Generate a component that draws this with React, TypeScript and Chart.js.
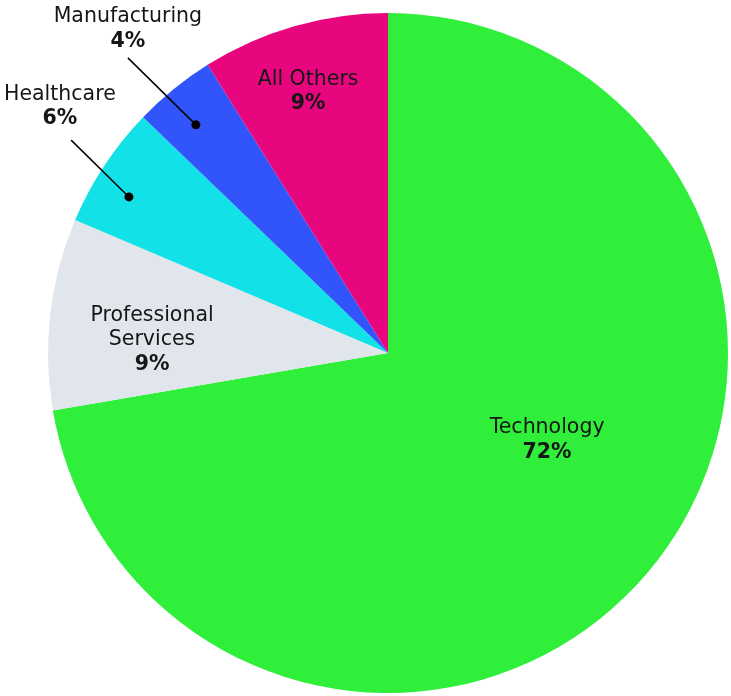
import React, { useEffect, useRef } from "react";
import { Chart, registerables } from "chart.js";

Chart.register(...registerables);

const categories = ["Technology", "Professional Services", "Healthcare", "Manufacturing", "All Others"];
const values = [72.3, 9.1, 5.8, 3.9, 8.9];
const percentLabels = ["72%", "9%", "6%", "4%", "9%"];
const labelLines = [["Technology"], ["Professional", "Services"], ["Healthcare"], ["Manufacturing"], ["All Others"]];
const colors = ["#2FEF3B", "#E1E5EC", "#12E1E8", "#3155FB", "#E8067F"];

// label placement in units of the pie radius, relative to pie centre
const labelPos: [number, number][] = [
  [0.468, 0.256],
  [-0.694, -0.038],
  [-0.965, -0.724],
  [-0.765, -0.953],
  [-0.235, -0.768],
];
// leader lines: [start, dot] in radius units (null = none)
const leaders: ([number, number][] | null)[] = [
  null,
  null,
  [[-0.932, -0.626], [-0.762, -0.459]],
  [[-0.765, -0.868], [-0.565, -0.671]],
  null,
];

const FONT = '"DejaVu Sans", sans-serif';

const labelPlugin = {
  id: "sliceLabels",
  afterDraw(chart: any) {
    const arc = chart.getDatasetMeta(0).data[0];
    if (!arc) return;
    const cx = arc.x;
    const cy = arc.y;
    const r = arc.outerRadius;
    const ctx = chart.ctx;
    ctx.save();
    ctx.textAlign = "center";
    ctx.textBaseline = "middle";
    ctx.fillStyle = "#161616";
    ctx.strokeStyle = "#000";
    const lh = 24.5;
    labelLines.forEach((lines, i) => {
      const [fx, fy] = labelPos[i];
      const x = cx + fx * r;
      const y = cy + fy * r;
      const total = lines.length + 1;
      const top = y - ((total - 1) * lh) / 2;
      ctx.font = `20.5px ${FONT}`;
      lines.forEach((t, j) => ctx.fillText(t, x, top + j * lh));
      ctx.font = `bold 20.5px ${FONT}`;
      ctx.fillText(percentLabels[i], x, top + lines.length * lh);
      const ld = leaders[i];
      if (ld) {
        const [s, d] = ld;
        ctx.lineWidth = 1.5;
        ctx.beginPath();
        ctx.moveTo(cx + s[0] * r, cy + s[1] * r);
        ctx.lineTo(cx + d[0] * r, cy + d[1] * r);
        ctx.stroke();
        ctx.fillStyle = "#000";
        ctx.beginPath();
        ctx.arc(cx + d[0] * r, cy + d[1] * r, 4.5, 0, Math.PI * 2);
        ctx.fill();
        ctx.fillStyle = "#161616";
      }
    });
    ctx.restore();
  },
};

export default function App() {
  const ref = useRef<HTMLCanvasElement>(null);
  useEffect(() => {
    if (!ref.current) return;
    const chart = new Chart(ref.current, {
      type: "pie",
      data: {
        labels: categories,
        datasets: [
          {
            data: values,
            backgroundColor: colors,
            borderWidth: 0,
          },
        ],
      },
      options: {
        animation: false,
        responsive: false,
        layout: { padding: { left: 48, right: 3, top: 13, bottom: 3 } },
        plugins: {
          legend: { display: false },
          tooltip: { enabled: false },
        },
      },
      plugins: [labelPlugin],
    });
    return () => chart.destroy();
  }, []);
  return (
    <div style={{ position: "absolute", left: 0, top: 0, width: 731, height: 696, background: "#fff" }}>
      <canvas ref={ref} width={731} height={696} style={{ display: "block" }} />
    </div>
  );
}
